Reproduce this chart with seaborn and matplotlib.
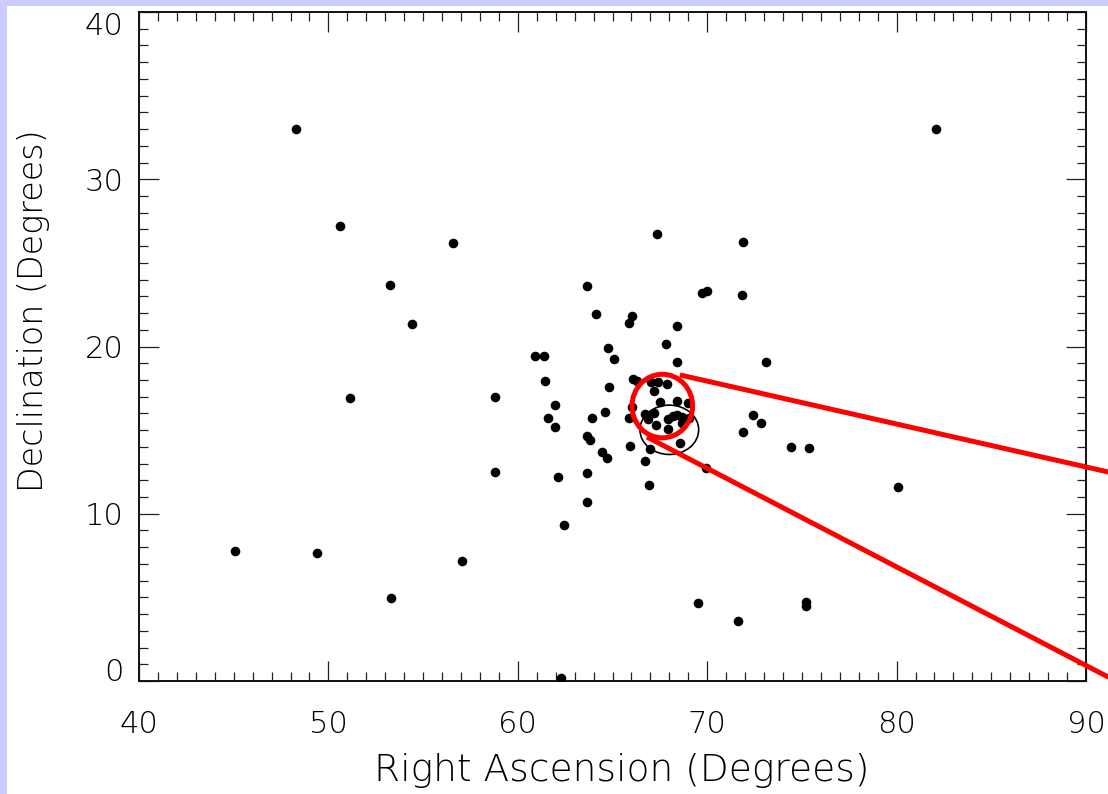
import matplotlib
matplotlib.use("Agg")
import matplotlib.pyplot as plt
from matplotlib.patches import Ellipse, Rectangle
from matplotlib.ticker import MultipleLocator
import seaborn as sns
import pandas as pd

# Source positions (degrees)
ra = [48.3, 82.1, 50.6, 56.6, 67.35, 71.9, 53.25, 63.65, 69.75, 70.0,
      71.85, 54.4, 64.15, 66.05, 65.85, 68.4, 67.8, 64.75, 65.1, 60.9,
      61.4, 68.4, 73.1, 51.15, 58.8, 61.45, 66.1, 66.3, 64.8, 67.05,
      67.4, 67.9, 67.2, 61.95, 67.5, 68.4, 69.0, 66.05, 64.6, 61.6,
      63.9, 65.85, 66.7, 66.9, 67.2, 67.95, 68.2, 68.4, 68.65, 68.8,
      68.65, 69.05, 67.3, 67.95, 61.95, 63.65, 63.8, 65.95, 68.55, 72.4,
      72.85, 71.9, 64.45, 64.7, 67.0, 66.7, 69.95, 63.65, 62.1, 58.8,
      66.95, 63.65, 62.45, 74.45, 75.4, 80.1, 45.05, 49.4, 57.05, 53.3,
      69.5, 71.6, 75.2, 75.2, 62.3]
dec = [33.0, 33.0, 27.2, 26.2, 26.7, 26.25, 23.7, 23.6, 23.2, 23.3,
       23.1, 21.35, 21.95, 21.8, 21.4, 21.2, 20.15, 19.9, 19.25, 19.45,
       19.45, 19.05, 19.05, 16.9, 17.0, 17.95, 18.05, 17.95, 17.55, 17.85,
       17.9, 17.75, 17.35, 16.5, 16.7, 16.75, 16.6, 16.4, 16.1, 15.7,
       15.7, 15.75, 15.95, 15.65, 16.05, 15.65, 15.85, 15.9, 15.8, 15.6,
       15.45, 15.75, 15.3, 15.05, 15.2, 14.65, 14.4, 14.05, 14.25, 15.9,
       15.45, 14.9, 13.7, 13.35, 13.85, 13.15, 12.75, 12.45, 12.2, 12.5,
       11.7, 10.7, 9.3, 14.0, 13.95, 11.6, 7.75, 7.65, 7.15, 4.95,
       4.65, 3.6, 4.7, 4.5, 0.2]

# Highlighted region and its callout
zoom_center = (67.63, 16.44)
zoom_size = (3.2, 3.8)
beam_center = (68.0, 15.02)
beam_size = (3.1, 2.95)
callout_upper_x = [68.56, 91.2]
callout_upper_y = [18.3, 12.49]
callout_lower_x = [66.82, 91.2]
callout_lower_y = [14.59, 0.22]

x_ticks = [40, 50, 60, 70, 80, 90]
y_ticks = [0, 10, 20, 30, 40]

sns.set_style("ticks")
plt.rcParams["font.family"] = ["DejaVu Sans"]
plt.rcParams["text.color"] = "black"
plt.rcParams["axes.labelcolor"] = "black"
plt.rcParams["xtick.labelcolor"] = "black"
plt.rcParams["ytick.labelcolor"] = "black"

fig = plt.figure(figsize=(11.08, 7.94), dpi=100, facecolor="white")
# lavender frame strips at the top and left edge
fig.patches.append(Rectangle((0, 0), 7 / 1108, 1, transform=fig.transFigure,
                             facecolor="#ccccff", edgecolor="none", zorder=0))
fig.patches.append(Rectangle((0, 1 - 6 / 794), 1, 6 / 794, transform=fig.transFigure,
                             facecolor="#ccccff", edgecolor="none", zorder=0))

ax = fig.add_axes([139 / 1108, 1 - 681 / 794, 947 / 1108, 669 / 794])
df = pd.DataFrame({"ra": ra, "dec": dec})
sns.scatterplot(data=df, x="ra", y="dec", ax=ax, color="black", s=48,
                linewidth=0, zorder=3)

ax.add_patch(Ellipse(beam_center, beam_size[0], beam_size[1], fill=False,
                     edgecolor="black", linewidth=1.2, zorder=4))
ax.add_patch(Ellipse(zoom_center, zoom_size[0], zoom_size[1], fill=False,
                     edgecolor="#ff0000", linewidth=3.6, zorder=5))
ax.plot(callout_upper_x, callout_upper_y, color="#ff0000", linewidth=3.6,
        clip_on=False, zorder=5, solid_capstyle="butt")
ax.plot(callout_lower_x, callout_lower_y, color="#ff0000", linewidth=3.6,
        clip_on=False, zorder=5, solid_capstyle="butt")

ax.set_xlim(40, 90)
ax.set_ylim(0, 40)
ax.set_xticks(x_ticks)
ax.set_yticks(y_ticks)
ax.xaxis.set_minor_locator(MultipleLocator(1))
ax.yaxis.set_minor_locator(MultipleLocator(1))
ax.tick_params(which="both", direction="in", top=True, right=True,
               color="#222222", width=0.9)
ax.tick_params(which="major", length=14.5, labelsize=22)
ax.tick_params(which="minor", length=6.5)
ax.tick_params(axis="x", which="major", pad=21)
ax.tick_params(axis="y", which="major", pad=11)
for s in ax.spines.values():
    s.set_linewidth(1.4)
    s.set_color("#111111")

ax.set_xlabel("Right Ascension (Degrees)", fontsize=27, fontweight="light",
              color="black")
ax.set_ylabel("Declination (Degrees)", fontsize=24, fontweight="light",
              color="black")
ax.xaxis.set_label_coords(0.51, -0.134)
ax.yaxis.set_label_coords(-0.111, 0.553)
ax.xaxis.label.set_va("center")
ax.yaxis.label.set_va("center")

ylabels = ax.get_yticklabels()
ylabels[0].set_va("baseline")
ylabels[-1].set_va("top")
for t in ax.get_xticklabels() + ylabels:
    t.set_fontweight("light")
    t.set_color("black")

fig.savefig("out.png", dpi=100)
